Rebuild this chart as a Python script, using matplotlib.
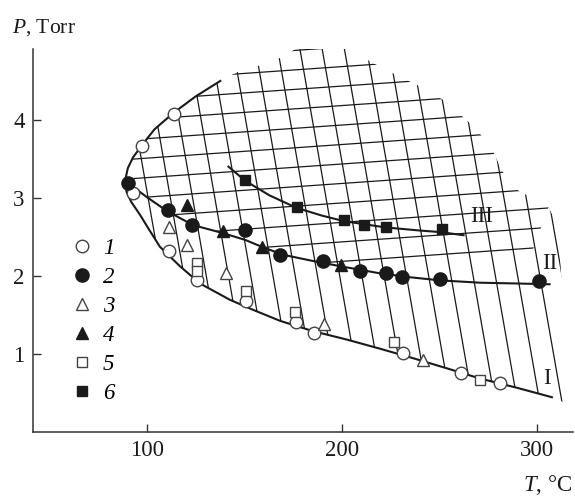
import numpy as np
import matplotlib
matplotlib.use("Agg")
import matplotlib.pyplot as plt
from matplotlib.patches import Polygon

plt.rcParams['font.family'] = 'Liberation Serif'
plt.rcParams['mathtext.fontset'] = 'custom'
plt.rcParams['mathtext.it'] = 'Liberation Serif:italic'
plt.rcParams['mathtext.rm'] = 'Liberation Serif'

# boundary I (goes round the nose and down to the right)
curve1_T = [137.7, 125, 113.7, 104, 98.3, 93, 90.3, 89.0, 89.6, 92, 96.6, 101, 106.8,
            117.1, 127.3, 142.7, 154.7, 168.4, 185, 202.6, 220, 236.7, 254, 270.9, 290, 307.7]
curve1_P = [4.50, 4.30, 4.09, 3.88, 3.70, 3.52, 3.38, 3.23, 3.08, 2.95, 2.78, 2.60, 2.37,
            2.12, 1.90, 1.69, 1.56, 1.42, 1.29, 1.18, 1.06, 0.94, 0.81, 0.68, 0.56, 0.44]

curve2_T = [90.4, 100, 110.4, 123.7, 138.6, 150.4, 159.1, 169.7, 185, 199.6, 219.6, 235,
            250.4, 271, 290, 306.5]
curve2_P = [3.19, 3.01, 2.83, 2.65, 2.55, 2.46, 2.37, 2.27, 2.19, 2.12, 2.03, 1.98,
            1.94, 1.91, 1.90, 1.89]

curve3_T = [141.9, 150.4, 163, 176.9, 190, 201.2, 222.3, 240, 250.4, 262.4]
curve3_P = [3.40, 3.22, 3.03, 2.87, 2.77, 2.70, 2.62, 2.58, 2.56, 2.52]

# outer edge of the hatched area
edge_T = [137.7, 147, 158, 169, 179, 201, 213, 226, 240, 253, 266, 276, 282, 290,
          306, 311, 312, 314, 316]
edge_P = [4.50, 4.62, 4.70, 4.80, 4.95, 4.95, 4.77, 4.60, 4.43, 4.24, 3.95, 3.68, 3.35,
          3.10, 2.88, 2.62, 2.20, 1.30, 0.35]
# lower edge of the flat hatching (right part)
hlow_T = [297, 262, 230]
hlow_P = [2.27, 2.21, 2.10]

# measured points
s1_T = [114, 97.8, 92.8, 111.6, 125.6, 151, 176.6, 185.8, 231.3, 261, 281.2]
s1_P = [4.07, 3.66, 3.06, 2.32, 1.94, 1.68, 1.40, 1.26, 1.01, 0.75, 0.62]
s2_T = [90.6, 110.8, 123.4, 150.4, 168.5, 190.3, 209.4, 222.4, 230.6, 250.4, 301.3]
s2_P = [3.19, 2.84, 2.65, 2.59, 2.27, 2.19, 2.06, 2.03, 1.98, 1.96, 1.93]
s3_T = [111.5, 120.8, 140.5, 191, 241.8]
s3_P = [2.62, 2.40, 2.03, 1.38, 0.92]
s4_T = [120.5, 139, 159, 199.6]
s4_P = [2.91, 2.57, 2.37, 2.14]
s5_T = [125.6, 125.6, 150.8, 176, 226.5, 270.9]
s5_P = [2.16, 2.06, 1.81, 1.54, 1.15, 0.66]
s6_T = [150.4, 177, 201.2, 211.4, 222.4, 251.3]
s6_P = [3.23, 2.88, 2.71, 2.65, 2.62, 2.60]

labels = ['1', '2', '3', '4', '5', '6']

fig = plt.figure(figsize=(5.75, 4.98), dpi=100)
ax = fig.add_axes([0.0574, 0.1335, 0.9391, 0.7681])
ax.set_xlim(41.7, 318.5)
ax.set_ylim(0, 4.91)

ink = '#1a1a1a'

# clip regions for the two hatch families
regA = list(zip(curve1_T, curve1_P))[::-1] + list(zip(edge_T, edge_P))
left_part = list(zip(curve1_T[:8], curve1_P[:8]))[::-1]
low_part = list(zip(hlow_T, hlow_P)) + [(t, p) for t, p in zip(curve2_T, curve2_P) if t < 225][::-1]
regB = [(90.4, 3.19)] + left_part[1:] + list(zip(edge_T, edge_P))[1:-4] + low_part
patchA = Polygon(regA, closed=True, transform=ax.transData, fill=False, lw=0)
patchB = Polygon(regB, closed=True, transform=ax.transData, fill=False, lw=0)
ax.add_patch(patchA)
ax.add_patch(patchB)

# steep hatch lines
k = 7.0
for c in np.arange(178.6 - 11.4 * 12, 420, 11.4):
    pp = np.array([5.2, -0.2])
    ln, = ax.plot(c + k * (4.9 - pp), pp, color=ink, lw=0.9, zorder=1)
    ln.set_clip_path(patchA)
# flat hatch lines
s = 0.00175
for c in np.arange(1.62, 5.4, 0.25):
    tt = np.array([60, 330])
    ln, = ax.plot(tt, c + s * (tt - 306.3), color=ink, lw=0.9, zorder=1)
    ln.set_clip_path(patchB)

ax.plot(curve1_T, curve1_P, color=ink, lw=1.5, zorder=2)
ax.plot(curve2_T, curve2_P, color=ink, lw=1.5, zorder=2)
ax.plot(curve3_T, curve3_P, color=ink, lw=1.5, zorder=2)

h1, = ax.plot(s1_T, s1_P, 'o', ms=9, mfc='white', mec='#444', mew=1.0, ls='none', zorder=3)
h2, = ax.plot(s2_T, s2_P, 'o', ms=9.5, mfc=ink, mec=ink, ls='none', zorder=3)
h3, = ax.plot(s3_T, s3_P, '^', ms=8, mfc='white', mec='#444', mew=1.0, ls='none', zorder=3)
h4, = ax.plot(s4_T, s4_P, '^', ms=8, mfc=ink, mec=ink, ls='none', zorder=3)
h5, = ax.plot(s5_T, s5_P, 's', ms=6.5, mfc='white', mec='#444', mew=1.0, ls='none', zorder=3)
h6, = ax.plot(s6_T, s6_P, 's', ms=6.5, mfc=ink, mec=ink, ls='none', zorder=3)

ax.text(305, 0.68, 'I', fontsize=16.5, ha='center', va='center', color=ink)
ax.text(306.8, 2.16, 'II', fontsize=16.5, ha='center', va='center', color=ink)
ax.text(271.8, 2.76, 'III', fontsize=16.5, ha='center', va='center', color=ink)

ax.legend([h1, h2, h3, h4, h5, h6], labels, loc='upper left',
          bbox_to_anchor=(0.074, 0.505), frameon=False, borderpad=0, borderaxespad=0,
          handlelength=0.8, handletextpad=0.5, labelspacing=0.34,
          prop={'family': 'Liberation Serif', 'style': 'italic', 'size': 16.5})

ax.spines['top'].set_visible(False)
ax.spines['right'].set_visible(False)
for sp in ['left', 'bottom']:
    ax.spines[sp].set_linewidth(1.1)
    ax.spines[sp].set_color('#333')
ax.set_xticks([100, 200, 300])
ax.set_yticks([1, 2, 3, 4])
ax.tick_params(direction='in', length=6, width=1.0, labelsize=16.5, colors='#333',
               labelcolor=ink, pad=6)

fig.text(0.021, 0.934, r'$P$, Torr', fontsize=15.5, ha='left', va='baseline', color=ink)
fig.text(0.995, 0.014, r'$T$, °C', fontsize=16.5, ha='right', va='baseline', color=ink)

fig.savefig('out.png', dpi=100)
